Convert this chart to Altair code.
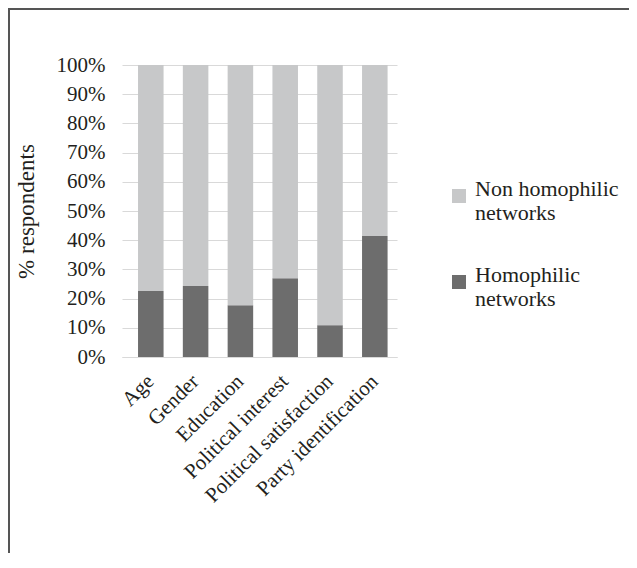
import altair as alt
import pandas as pd

categories = ["Age", "Gender", "Education", "Political interest",
              "Political satisfaction", "Party identification"]
homophilic = [22.6, 24.3, 17.7, 27.0, 10.9, 41.4]
non_homophilic = [77.4, 75.7, 82.3, 73.0, 89.1, 58.6]
series_names = ["Non homophilic networks", "Homophilic networks"]
series_colors = ["#c7c8c9", "#6d6d6d"]
y_ticks = [0, 0.1, 0.2, 0.3, 0.4, 0.5, 0.6, 0.7, 0.8, 0.9, 1.0]

rows = []
for c, h, n in zip(categories, homophilic, non_homophilic):
    rows.append({"cat": c, "series": "Homophilic networks", "value": h, "ord": 0})
    rows.append({"cat": c, "series": "Non homophilic networks", "value": n, "ord": 1})
df = pd.DataFrame(rows)

FONT = "Liberation Serif"
TXT = "#231f20"

bars = alt.Chart(df).mark_bar().encode(
    x=alt.X("cat:N", sort=categories,
            scale=alt.Scale(paddingInner=0.43, paddingOuter=0.284, align=0.63),
            axis=alt.Axis(title=None, labelAngle=-45, labelAlign="right",
                          labelBaseline="middle", labelPadding=21, ticks=False,
                          labelFont=FONT, labelFontSize=21, labelColor=TXT,
                          domainColor="#d9d9d9", domainWidth=1, grid=False)),
    y=alt.Y("value:Q", stack="normalize",
            scale=alt.Scale(domain=[0, 1], nice=False),
            axis=alt.Axis(title="% respondents", format="%",
                          values=y_ticks, labelOverlap=False,
                          ticks=False, domain=False, labelPadding=17,
                          labelFont=FONT, labelFontSize=21, labelColor=TXT,
                          gridColor="#d9d9d9", gridWidth=1,
                          titleFont=FONT, titleFontSize=23,
                          titleFontWeight=400,
                          titleColor=TXT, titleX=-96, titleY=146, titleAngle=270,
                          titleBaseline="middle", titleAlign="center")),
    color=alt.Color("series:N",
                    scale=alt.Scale(domain=series_names, range=series_colors),
                    legend=alt.Legend(title=None, orient="none", legendX=326, legendY=120,
                                      symbolType="square", symbolSize=196,
                                      symbolStrokeWidth=0, labelFont=FONT,
                                      labelFontSize=22, labelColor=TXT,
                                      labelOffset=5, labelLimit=400,
                                      rowPadding=40, labelBaseline="alphabetic",
                                      labelExpr="[replace(datum.label, ' networks', ''), 'networks']")),
    order=alt.Order("ord:Q", sort="ascending"),
)

border = alt.Chart(df).mark_rect(fill=None, stroke="#555555", strokeWidth=1.5, clip=False).encode(
    x=alt.value(-113), x2=alt.value(700), y=alt.value(-56), y2=alt.value(700)
)

chart = alt.layer(bars, border).properties(
    width=275, height=292,
    autosize=alt.AutoSizeParams(type="none"),
    padding={"left": 114, "top": 57, "right": 232, "bottom": 196},
).configure(background="white").configure_view(stroke=None)

chart.save("out.html", embed_options={"renderer": "svg", "actions": False})
